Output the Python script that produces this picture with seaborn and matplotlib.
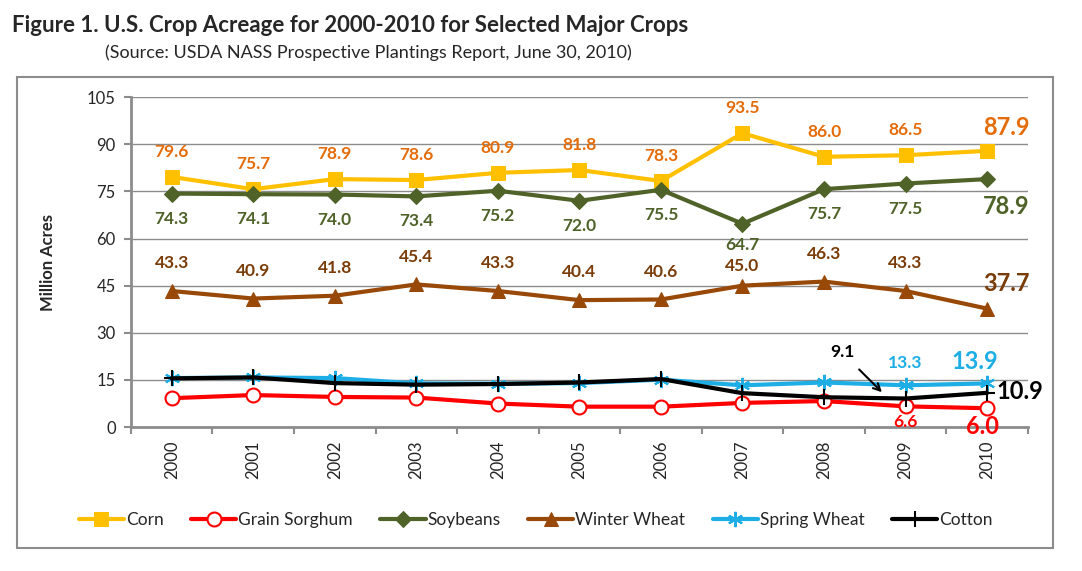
import pandas as pd
import seaborn as sns
import matplotlib.pyplot as plt
from matplotlib.patches import Rectangle
from matplotlib.ticker import MultipleLocator, FixedLocator

years = ["2000", "2001", "2002", "2003", "2004", "2005", "2006", "2007", "2008", "2009", "2010"]
corn = [79.6, 75.7, 78.9, 78.6, 80.9, 81.8, 78.3, 93.5, 86.0, 86.5, 87.9]
sorghum = [9.2, 10.2, 9.6, 9.4, 7.5, 6.5, 6.5, 7.7, 8.3, 6.6, 6.0]
soybeans = [74.3, 74.1, 74.0, 73.4, 75.2, 72.0, 75.5, 64.7, 75.7, 77.5, 78.9]
winter_wheat = [43.3, 40.9, 41.8, 45.4, 43.3, 40.4, 40.6, 45.0, 46.3, 43.3, 37.7]
spring_wheat = [15.6, 15.8, 15.6, 13.9, 13.8, 14.0, 15.1, 13.3, 14.2, 13.3, 13.9]
cotton = [15.5, 15.8, 14.0, 13.5, 13.7, 14.2, 15.3, 10.8, 9.5, 9.1, 10.9]

sns.set_theme(style="white")
plt.rcParams["font.family"] = ["Lato", "DejaVu Sans"]

fig = plt.figure(figsize=(10.82, 5.71), dpi=100)
ax = fig.add_axes([0.121, 0.252, 0.829, 0.578])

x = list(range(len(years)))
series = [
    ("Corn", corn, "#FFC000", dict(marker="s", markersize=10, mfc="#FFC000", mec="#FFC000")),
    ("Grain Sorghum", sorghum, "#FF0000", dict(marker="o", markersize=10, mfc="white", mec="#FF0000", mew=1.5)),
    ("Soybeans", soybeans, "#4F6228", dict(marker="D", markersize=8, mfc="#4F6228", mec="#4F6228")),
    ("Winter Wheat", winter_wheat, "#984807", dict(marker="^", markersize=10, mfc="#984807", mec="#984807")),
    ("Spring Wheat", spring_wheat, "#1DAEE6", dict(marker=(6, 2, 0), markersize=11, mec="#1DAEE6", mew=1.5)),
    ("Cotton", cotton, "black", dict(marker="+", markersize=11, mec="black", mew=1.5)),
]
# spring wheat drawn under cotton
order = ["Corn", "Soybeans", "Winter Wheat", "Spring Wheat", "Grain Sorghum", "Cotton"]
handles = {}
for name, vals, col, mk in sorted(series, key=lambda s: order.index(s[0])):
    sns.lineplot(x=x, y=vals, ax=ax, color=col, linewidth=3, **mk)
    handles[name] = ax.lines[-1]

ax.set_xlim(-0.5, 10.5)
ax.set_ylim(0, 105)
ax.yaxis.set_major_locator(MultipleLocator(15))
ax.grid(axis="y", color="#8c8c8c", linewidth=1)
ax.set_axisbelow(True)
ax.set_xticks(x)
ax.set_xticklabels(years, rotation=90, fontsize=12)
ax.xaxis.set_minor_locator(FixedLocator([i - 0.5 for i in range(12)]))
ax.tick_params(axis="x", which="major", length=0, pad=10)
ax.tick_params(axis="x", which="minor", length=5, color="#8c8c8c", width=1.5, direction="out", bottom=True)
ax.tick_params(axis="y", length=5, color="#8c8c8c", width=1.5, direction="out", left=True, labelsize=12, pad=6)
for s in ["top", "right"]:
    ax.spines[s].set_visible(False)
for s in ["left", "bottom"]:
    ax.spines[s].set_color("#8c8c8c")
    ax.spines[s].set_linewidth(2)
ax.set_ylabel("Million Acres", fontsize=12, fontweight="bold", labelpad=22)

def label(i, v, col, dx, dy, size=12.5, ha="center"):
    ax.annotate(f"{v:.1f}", (i, v), xytext=(dx, dy), textcoords="offset points",
                ha=ha, va="center", color=col, fontsize=size, fontweight="bold")

for i in range(10):
    label(i, corn[i], "#E46C0A", 0, 18)
    label(i, soybeans[i], "#4F6228", 0, -15 if i == 7 else -18)
    label(i, winter_wheat[i], "#7A3C08", 0, 14 if i == 7 else 20)
label(10, corn[10], "#E46C0A", 14, 17, size=17)
label(10, soybeans[10], "#4F6228", 14, -20, size=17)
label(10, winter_wheat[10], "#7A3C08", 14, 18, size=17)
label(9, spring_wheat[9], "#1DAEE6", 0, 16)
label(10, spring_wheat[10], "#1DAEE6", -9, 16, size=17)
label(9, sorghum[9], "#FF0000", 0, -11)
label(10, sorghum[10], "#FF0000", -3, -13, size=17)
label(10, cotton[10], "black", 7, 1, size=17, ha="left")
ax.annotate(f"{cotton[9]:.1f}", (8.71, 11.1), xytext=(8.22, 23.8), textcoords="data",
            ha="center", va="center", fontsize=12.5, fontweight="bold", color="black",
            arrowprops=dict(arrowstyle="->", color="black", lw=1.5, shrinkA=6, shrinkB=0))

names = ["Corn", "Grain Sorghum", "Soybeans", "Winter Wheat", "Spring Wheat", "Cotton"]
fig.legend([handles[n] for n in names], names, loc="center", bbox_to_anchor=(0.495, 0.089),
           ncol=6, frameon=False, fontsize=12.5, handlelength=2.6, handletextpad=0.1, columnspacing=1.6)

fig.text(0.011, 0.955, "Figure 1. U.S. Crop Acreage for 2000-2010 for Selected Major Crops",
         fontsize=16, fontweight="bold", va="center")
fig.text(0.097, 0.908, "(Source: USDA NASS Prospective Plantings Report, June 30, 2010)",
         fontsize=13, va="center")
fig.patches.append(Rectangle((0.016, 0.04), 0.957, 0.825, transform=fig.transFigure,
                             fill=False, edgecolor="#8c8c8c", linewidth=1.5))

fig.savefig("out.png", dpi=100)
